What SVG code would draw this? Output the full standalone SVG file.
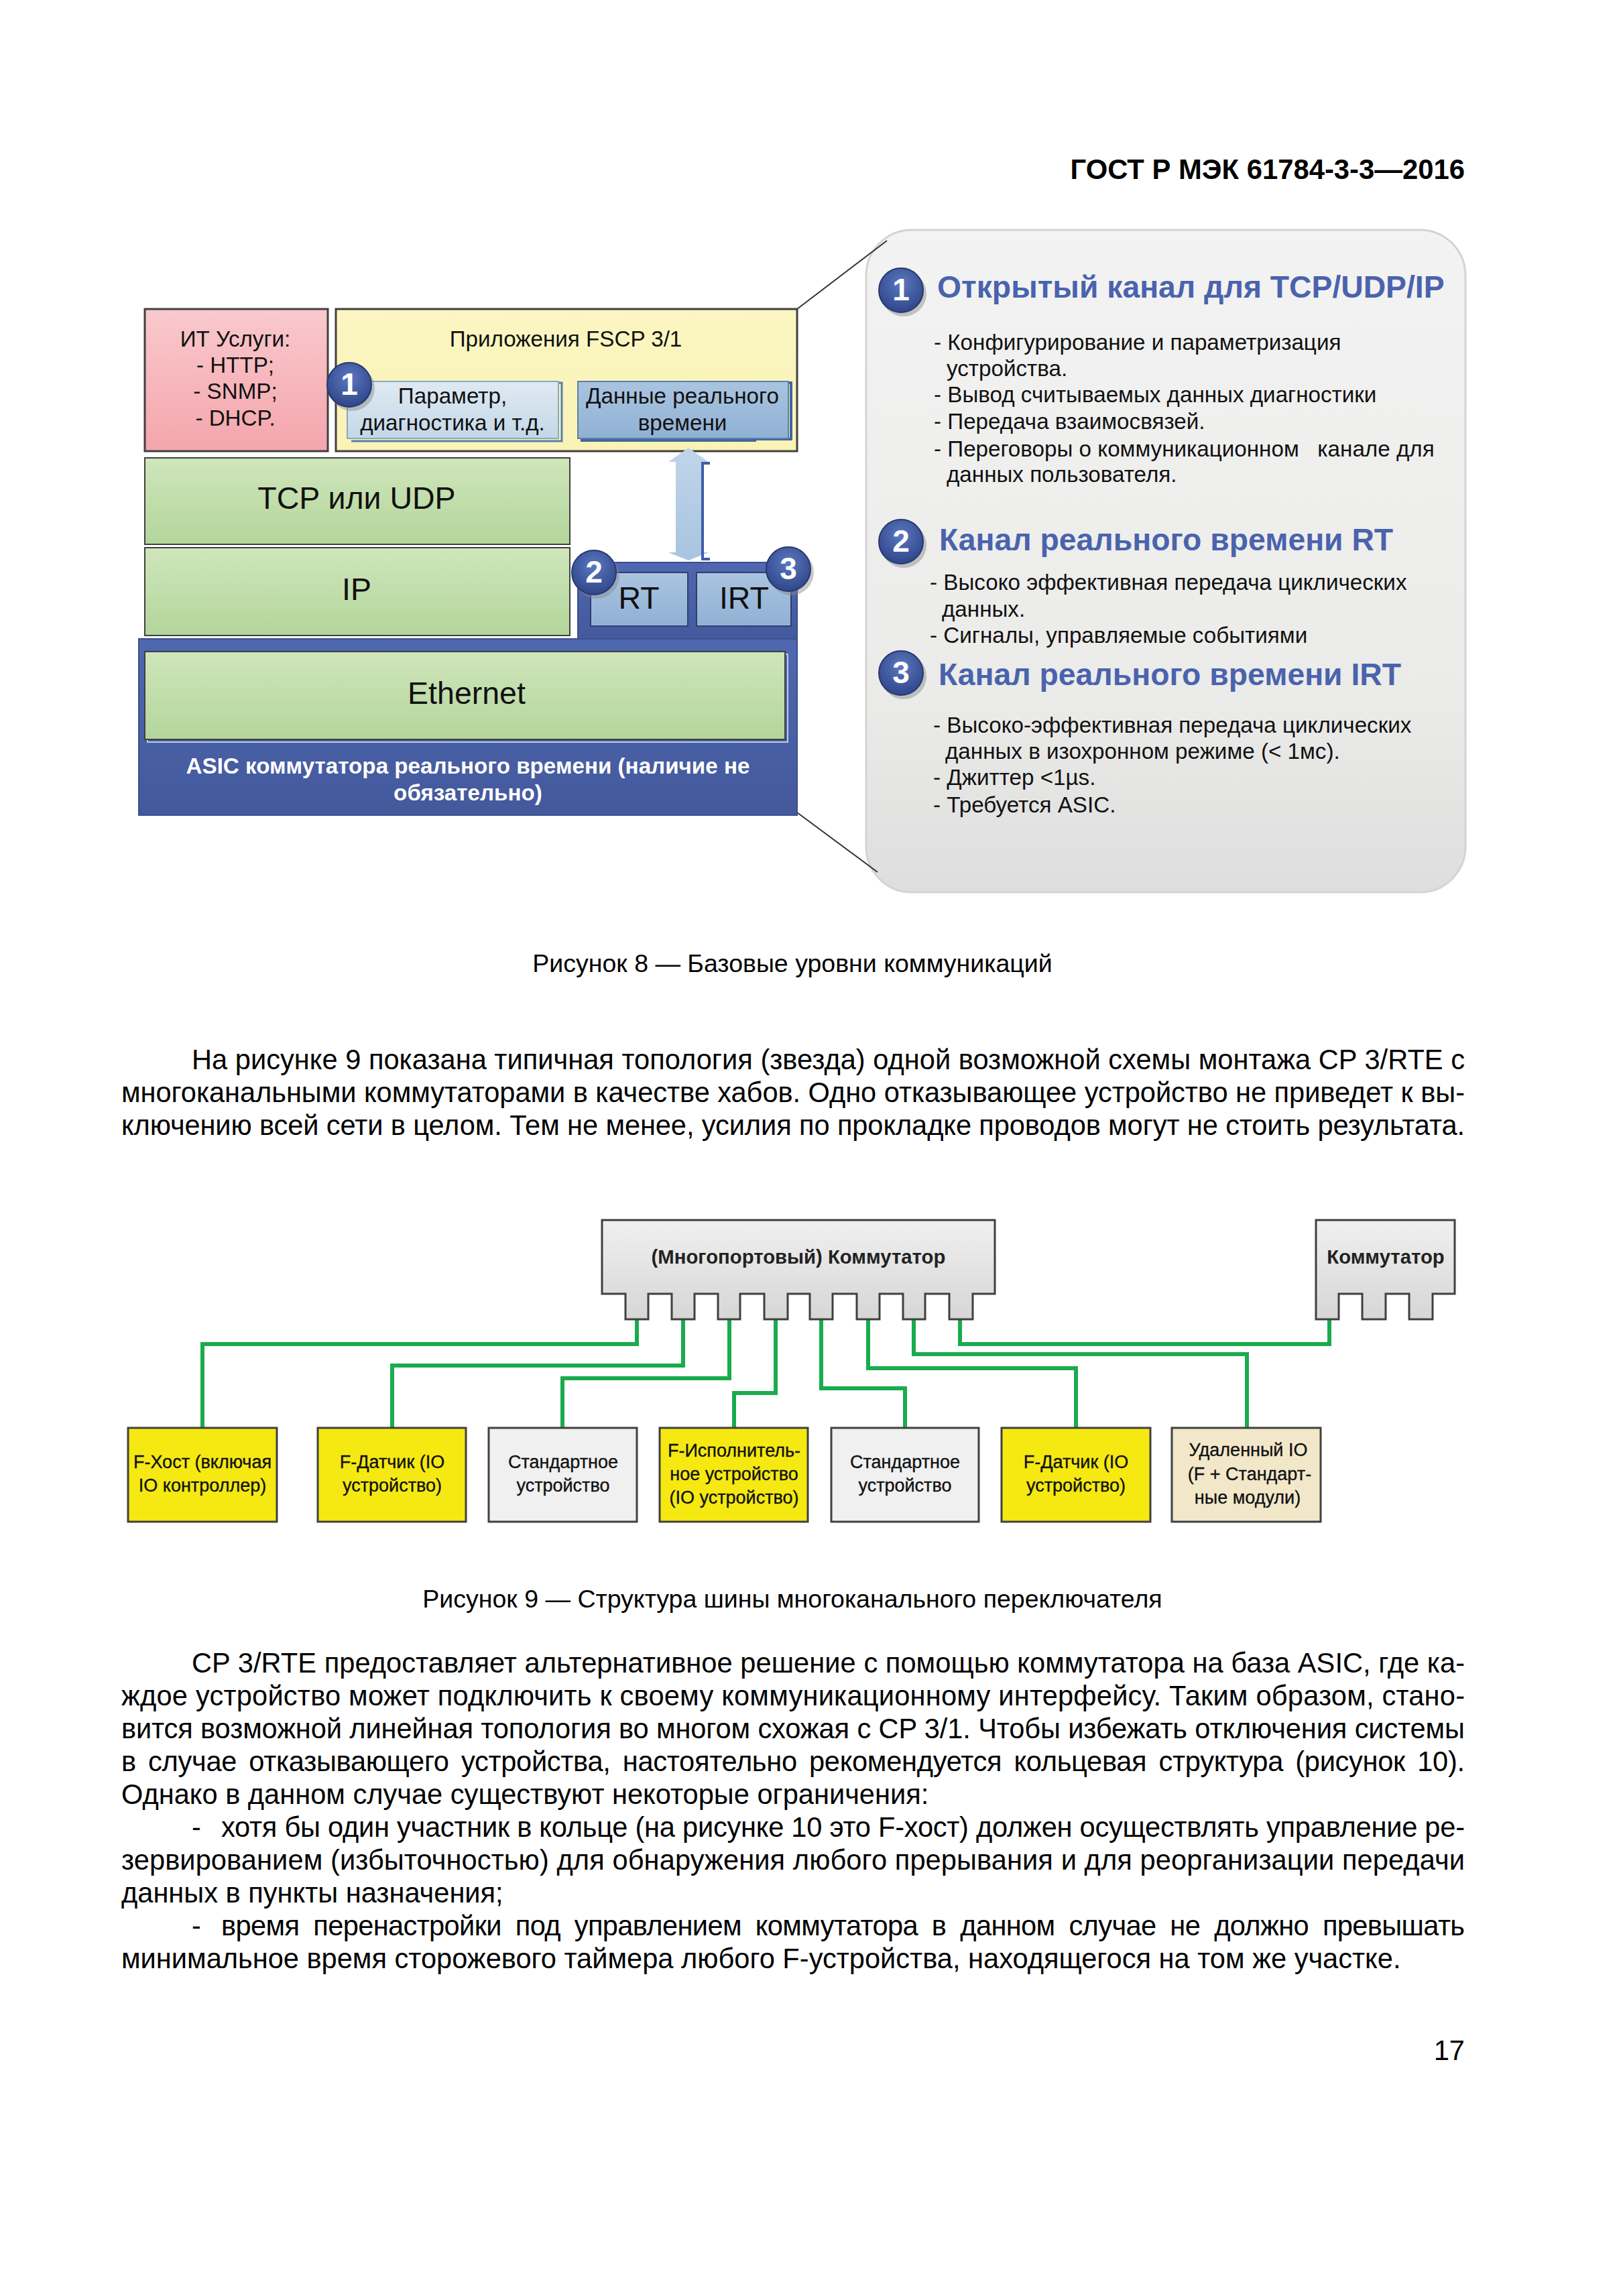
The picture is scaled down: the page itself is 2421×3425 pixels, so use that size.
<svg xmlns="http://www.w3.org/2000/svg" width="2421" height="3425" viewBox="0 0 2421 3425">
<style>
text{font-family:"Liberation Sans",Arial,sans-serif;fill:#000}
.p{font-size:41.6px}
.cap{font-size:37.5px;text-anchor:middle}
.hdr{font-size:41.8px;font-weight:bold;text-anchor:end}
.lab{font-size:33.2px;fill:#111}
.c{text-anchor:middle}
.big{font-size:46.5px;text-anchor:middle;fill:#111}
.wh{font-size:33.2px;font-weight:bold;fill:#fff;text-anchor:middle}
.h{font-size:46.3px;font-weight:bold;fill:#4a63ad}
.num{font-size:46px;font-weight:bold;fill:#fff;text-anchor:middle}
.box{stroke:#404040;stroke-width:3}
.node{font-size:27px;text-anchor:middle;fill:#111;stroke:#111;stroke-width:.35}
.sw{font-size:29.3px;font-weight:bold;text-anchor:middle;fill:#222}
.conn{fill:none;stroke:#1aab4e;stroke-width:6}
.yellow{fill:#f5e911}.gray{fill:#f0f0f0}.beige{fill:#f2e8c9}
.ring{fill:url(#gCirc);stroke:#26386f;stroke-width:2}
.shadow{fill:#888;opacity:.45}
.callout{stroke:#333;stroke-width:2;fill:none}
</style>
<defs>
<linearGradient id="gRed" x1="0" y1="0" x2="0" y2="1"><stop offset="0" stop-color="#f9c9cd"/><stop offset="1" stop-color="#f4a5ac"/></linearGradient>
<linearGradient id="gYel" x1="0" y1="0" x2="0" y2="1"><stop offset="0" stop-color="#fbf6c2"/><stop offset="1" stop-color="#f9f3b6"/></linearGradient>
<linearGradient id="gGrn" x1="0" y1="0" x2="0" y2="1"><stop offset="0" stop-color="#cfe6bb"/><stop offset="1" stop-color="#b3d59b"/></linearGradient>
<linearGradient id="gBlu" x1="0" y1="0" x2="0" y2="1"><stop offset="0" stop-color="#4f68af"/><stop offset="1" stop-color="#44599c"/></linearGradient>
<linearGradient id="gRt" x1="0" y1="0" x2="0" y2="1"><stop offset="0" stop-color="#aac4e0"/><stop offset="1" stop-color="#90b1d4"/></linearGradient>
<linearGradient id="gPar" x1="0" y1="0" x2="0" y2="1"><stop offset="0" stop-color="#dfeaf3"/><stop offset="1" stop-color="#c4d7e7"/></linearGradient>
<linearGradient id="gArr" x1="0" y1="0" x2="0" y2="1"><stop offset="0" stop-color="#c0d5ea"/><stop offset="1" stop-color="#a8c4e0"/></linearGradient>
<linearGradient id="gPan" x1="0" y1="0" x2="0" y2="1"><stop offset="0" stop-color="#f3f3f3"/><stop offset=".7" stop-color="#ebebe9"/><stop offset="1" stop-color="#dedede"/></linearGradient>
<linearGradient id="gSw" x1="0" y1="0" x2="0" y2="1"><stop offset="0" stop-color="#f0f0f0"/><stop offset="1" stop-color="#d6d6d6"/></linearGradient>
<radialGradient id="gCirc" cx=".5" cy=".35" r=".65"><stop offset="0" stop-color="#5c78c0"/><stop offset="1" stop-color="#2f4689"/></radialGradient>
</defs>
<rect width="2421" height="3425" fill="#fff"/>
<text class="hdr" x="2185" y="267">ГОСТ Р МЭК 61784-3-3—2016</text>

<g id="panel">
<rect x="1292" y="343" width="894" height="988" rx="68" ry="68" fill="url(#gPan)" stroke="#d4d4d4" stroke-width="3"/>
<path class="callout" d="M1189 461L1323 359M1189 1212L1309 1301"/>
<circle class="shadow" cx="1348" cy="438" r="34"/><circle class="ring" cx="1344" cy="433" r="33"/><text class="num" x="1344" y="448">1</text>
<text class="h" x="1398" y="444">Открытый канал для TCP/UDP/IP</text>
<text class="lab" x="1393" y="522">- Конфигурирование и параметризация</text>
<text class="lab" x="1412" y="561">устройства.</text>
<text class="lab" x="1393" y="600">- Вывод считываемых данных диагностики</text>
<text class="lab" x="1393" y="640">- Передача взаимосвязей.</text>
<text class="lab" x="1393" y="681" xml:space="preserve">- Переговоры о коммуникационном   канале для</text>
<text class="lab" x="1412" y="719">данных пользователя.</text>
<circle class="shadow" cx="1348" cy="813" r="34"/><circle class="ring" cx="1344" cy="808" r="33"/><text class="num" x="1344" y="823">2</text>
<text class="h" x="1401" y="821">Канал реального времени RT</text>
<text class="lab" x="1387" y="880">- Высоко эффективная передача циклических</text>
<text class="lab" x="1405" y="920">данных.</text>
<text class="lab" x="1387" y="959">- Сигналы, управляемые событиями</text>
<circle class="shadow" cx="1348" cy="1009" r="34"/><circle class="ring" cx="1344" cy="1004" r="33"/><text class="num" x="1344" y="1019">3</text>
<text class="h" x="1400" y="1022">Канал реального времени IRT</text>
<text class="lab" x="1392" y="1093">- Высоко-эффективная передача циклических</text>
<text class="lab" x="1410" y="1132">данных в изохронном режиме (&lt; 1мс).</text>
<text class="lab" x="1392" y="1171">- Джиттер &lt;1µs.</text>
<text class="lab" x="1392" y="1212">- Требуется ASIC.</text>
</g>

<g id="it"><rect class="box" x="216" y="461" width="273" height="212" fill="url(#gRed)"/>
<text class="lab c" x="351" y="517">ИТ Услуги:</text><text class="lab c" x="351" y="556">- HTTP;</text><text class="lab c" x="351" y="595">- SNMP;</text><text class="lab c" x="351" y="635">- DHCP.</text></g>
<g id="apps"><rect class="box" x="501" y="461" width="688" height="212" fill="url(#gYel)"/>
<text class="lab c" x="844" y="517">Приложения FSCP 3/1</text></g>
<g id="param"><path d="M833 571H838V658H524" fill="none" stroke="#5a7fae" stroke-width="3"/><rect x="518" y="569" width="315" height="85" fill="url(#gPar)" stroke="#8ba6c0" stroke-width="2"/>
<text class="lab c" x="675" y="602">Параметр,</text><text class="lab c" x="675" y="642">диагностика и т.д.</text></g>
<g id="data"><path d="M1176 571H1180V655H1126V657H866" fill="none" stroke="#3f66a0" stroke-width="4"/><rect x="862" y="569" width="314" height="85" fill="url(#gRt)" stroke="#5d7fa8" stroke-width="2"/>
<text class="lab c" x="1018" y="602">Данные реального</text><text class="lab c" x="1018" y="642">времени</text></g>
<g id="tcp"><rect x="216" y="683" width="634" height="129" fill="url(#gGrn)" stroke="#404040" stroke-width="2"/><text class="big" x="532" y="759">TCP или UDP</text></g>
<g id="ip"><rect x="216" y="817" width="634" height="131" fill="url(#gGrn)" stroke="#404040" stroke-width="2"/><text class="big" x="532" y="895">IP</text></g>
<g id="exch"><path d="M1027 668L1057 689H1046V824H1057L1027 836L997 824H1008V689H997Z" fill="url(#gArr)"/><path d="M1059 691H1048V834H1059" fill="none" stroke="#3f5ca8" stroke-width="4"/></g>
<g id="asic"><rect x="862" y="839" width="327" height="116" fill="url(#gBlu)" stroke="#3a4f8e" stroke-width="2"/>
<rect x="207" y="953" width="982" height="263" fill="url(#gBlu)" stroke="#3a4f8e" stroke-width="2"/>
<text class="wh" x="698" y="1154">ASIC коммутатора реального времени (наличие не</text><text class="wh" x="698" y="1194">обязательно)</text></g>
<g id="rt"><rect x="881" y="854" width="145" height="80" fill="url(#gRt)" stroke="#2f3f70" stroke-width="2"/><text class="big" x="953" y="908">RT</text></g>
<g id="irt"><rect x="1039" y="854" width="141" height="80" fill="url(#gRt)" stroke="#2f3f70" stroke-width="2"/><text class="big" x="1110" y="908">IRT</text></g>
<g id="ethernet"><rect x="220" y="976" width="955" height="131" fill="none" stroke="#b9cde6" stroke-width="2"/><rect x="216" y="972" width="955" height="131" fill="url(#gGrn)" stroke="#404040" stroke-width="2"/><text class="big" x="696" y="1050">Ethernet</text></g>
<g id="badge1"><circle class="shadow" cx="525" cy="579" r="34"/><circle class="ring" cx="521" cy="574" r="33"/><text class="num" x="521" y="589">1</text></g>
<g id="badge2"><circle class="shadow" cx="890" cy="859" r="34"/><circle class="ring" cx="886" cy="854" r="33"/><text class="num" x="886" y="869">2</text></g>
<g id="badge3"><circle class="shadow" cx="1180" cy="854" r="34"/><circle class="ring" cx="1176" cy="849" r="33"/><text class="num" x="1176" y="864">3</text></g>

<text class="cap" x="1182" y="1450">Рисунок 8 — Базовые уровни коммуникаций</text>
<text class="p" x="286" y="1595" textLength="1899">На рисунке 9 показана типичная топология (звезда) одной возможной схемы монтажа CP 3/RTE с</text>
<text class="p" x="181" y="1644" textLength="2004">многоканальными коммутаторами в качестве хабов. Одно отказывающее устройство не приведет к вы-</text>
<text class="p" x="181" y="1693" textLength="2004">ключению всей сети в целом. Тем не менее, усилия по прокладке проводов могут не стоить результата.</text>

<g id="connectors">
<path class="conn" d="M950 1965V2005H302V2130"/>
<path class="conn" d="M1019 1965V2037H585V2130"/>
<path class="conn" d="M1088 1965V2056H839V2130"/>
<path class="conn" d="M1157 1965V2078H1095V2130"/>
<path class="conn" d="M1225 1965V2071H1350V2130"/>
<path class="conn" d="M1295 1965V2041H1605V2130"/>
<path class="conn" d="M1363 1965V2020H1860V2130"/>
<path class="conn" d="M1432 1965V2005H1983V1965"/>
</g>
<g id="switch-main"><path class="box" fill="url(#gSw)" d="M898 1820H1484V1930H1451V1968H1416V1930H1380V1968H1347V1930H1312V1968H1278V1930H1242V1968H1208V1930H1175V1968H1140V1930H1104V1968H1071V1930H1036V1968H1002V1930H967V1968H933V1930H898Z"/><text class="sw" x="1191" y="1885">(Многопортовый) Коммутатор</text></g>
<g id="switch-2"><path class="box" fill="url(#gSw)" d="M1963 1820H2170V1930H2137V1968H2102V1930H2067V1968H2032V1930H1997V1968H1963Z"/><text class="sw" x="2067" y="1885">Коммутатор</text></g>
<g id="n1"><rect class="box yellow" x="191" y="2130" width="222" height="140"/><text class="node" x="302" y="2190">F-Хост (включая</text><text class="node" x="302" y="2225">IO контроллер)</text></g>
<g id="n2"><rect class="box yellow" x="474" y="2130" width="221" height="140"/><text class="node" x="585" y="2190">F-Датчик (IO</text><text class="node" x="585" y="2225">устройство)</text></g>
<g id="n3"><rect class="box gray" x="729" y="2130" width="221" height="140"/><text class="node" x="840" y="2190">Стандартное</text><text class="node" x="840" y="2225">устройство</text></g>
<g id="n4"><rect class="box yellow" x="984" y="2130" width="221" height="140"/><text class="node" x="1095" y="2173">F-Исполнитель-</text><text class="node" x="1095" y="2208">ное устройство</text><text class="node" x="1095" y="2243">(IO устройство)</text></g>
<g id="n5"><rect class="box gray" x="1240" y="2130" width="220" height="140"/><text class="node" x="1350" y="2190">Стандартное</text><text class="node" x="1350" y="2225">устройство</text></g>
<g id="n6"><rect class="box yellow" x="1494" y="2130" width="222" height="140"/><text class="node" x="1605" y="2190">F-Датчик (IO</text><text class="node" x="1605" y="2225">устройство)</text></g>
<g id="n7"><rect class="box beige" x="1748" y="2130" width="222" height="140"/><text class="node" x="1862" y="2172">Удаленный IO</text><text class="node" x="1864" y="2208">(F + Стандарт-</text><text class="node" x="1861" y="2243">ные модули)</text></g>

<text class="cap" x="1182" y="2398">Рисунок 9 — Структура шины многоканального переключателя</text>
<text class="p" x="286" y="2495" textLength="1899">CP 3/RTE предоставляет альтернативное решение с помощью коммутатора на база ASIC, где ка-</text>
<text class="p" x="181" y="2544" textLength="2004">ждое устройство может подключить к своему коммуникационному интерфейсу. Таким образом, стано-</text>
<text class="p" x="181" y="2593" textLength="2004">вится возможной линейная топология во многом схожая с CP 3/1. Чтобы избежать отключения системы</text>
<text class="p" x="181" y="2642" textLength="2004" style="word-spacing:7px">в случае отказывающего устройства, настоятельно рекомендуется кольцевая структура (рисунок 10).</text>
<text class="p" x="181" y="2691">Однако в данном случае существуют некоторые ограничения:</text>
<text class="p" x="286" y="2740">-</text>
<text class="p" x="330" y="2740" textLength="1855">хотя бы один участник в кольце (на рисунке 10 это F-хост) должен осуществлять управление ре-</text>
<text class="p" x="181" y="2789" textLength="2004">зервированием (избыточностью) для обнаружения любого прерывания и для реорганизации передачи</text>
<text class="p" x="181" y="2838">данных в пункты назначения;</text>
<text class="p" x="286" y="2887">-</text>
<text class="p" x="330" y="2887" textLength="1855" style="word-spacing:10px">время перенастройки под управлением коммутатора в данном случае не должно превышать</text>
<text class="p" x="181" y="2936">минимальное время сторожевого таймера любого F-устройства, находящегося на том же участке.</text>
<text class="p" x="2185" y="3073" text-anchor="end">17</text>
</svg>
